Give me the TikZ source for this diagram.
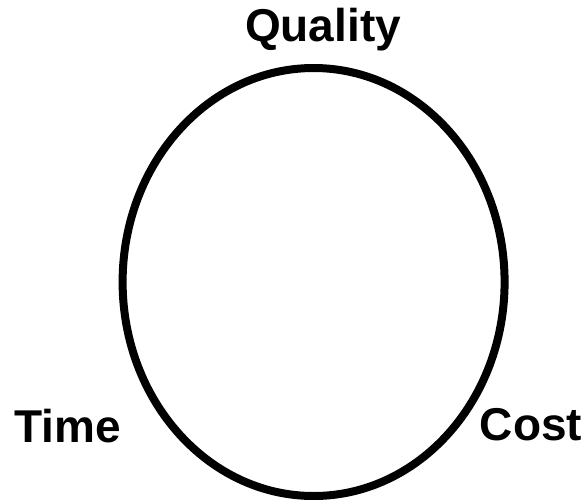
\documentclass[tikz,border=0pt]{standalone}
\usepackage{fontspec}
\setmainfont{Liberation Sans}
\tikzset{
  corner/.style={font=\fontsize{46}{52}\selectfont\bfseries,anchor=base,inner sep=0pt},
}
\begin{document}
\begin{tikzpicture}[x=1pt,y=-1pt,line cap=round,line join=round]
  \useasboundingbox (0,0) rectangle (587,499);
  \coordinate (mid) at (313.6,282);
  \draw[line width=8pt] (mid) ellipse[x radius=191,y radius=214];
  \node[corner] (quality) at (323,41.5) {Quality};
  \node[corner] (time) at (67.5,442) {Time};
  \node[corner] (cost) at (531,440) {Cost};
\end{tikzpicture}
\end{document}
